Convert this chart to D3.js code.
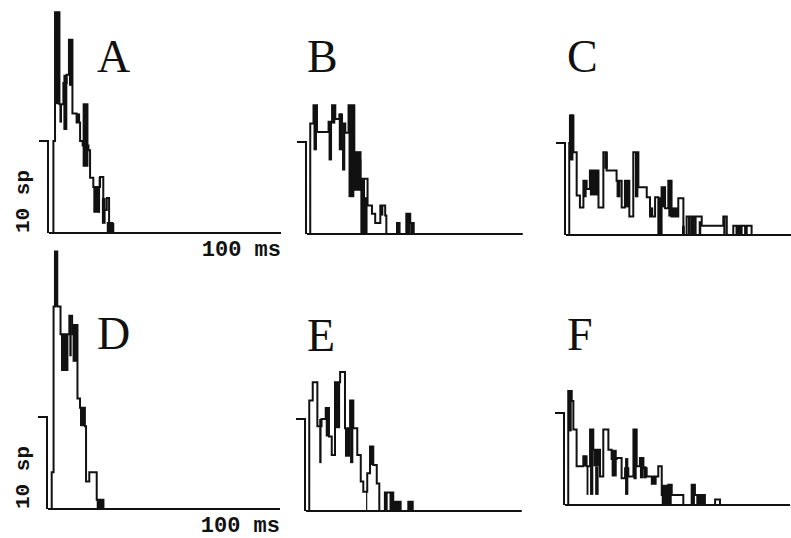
<!DOCTYPE html>
<html>
<head>
<meta charset="utf-8">
<script src="https://cdn.jsdelivr.net/npm/d3@7"></script>
<style>
  body { margin: 0; background: #fff; }
  svg { display: block; }
</style>
</head>
<body>
<div id="chart"></div>
<script>
const width = 791;
const height = 538;
const pxPerMs = 2.32;
const pxPerSpike = 9.2;

const panelNames = ["A", "B", "C", "D", "E", "F"];
const axisEnd = [100, 93, 97, 100, 93, 97];   // ms drawn on each baseline
const scaleSpikes = 10;                        // "10 sp" bar

// step outlines: [time ms, spikes] (value holds until the next point)
const stepsA = [[0,0],[1.9,10],[2.6,24],[4.5,14],[6.2,16.3],[7.6,17.2],[8.6,21],[10.1,13],[11.9,12],[13.4,10],[14.5,9.5],[17,9],[17.7,6],[19.1,5],[22,6.1],[23.4,2.5],[24.9,3.8],[25.9,1],[27.7,0]];
const stepsB = [[0,0],[1.4,12],[2.8,14],[4.3,11.1],[9.3,12.2],[10.8,14],[12.2,12.5],[14,13],[15.1,12],[16.5,11],[17.9,14],[20.4,8],[23,6],[26.1,3.1],[28,2.2],[29.4,1.2],[31.6,3.1],[33.7,2],[34.2,0],[38.8,1.2],[39.9,0],[42.8,2.2],[44.5,1.2],[46,0]];
const stepsC = [[0,0],[1.4,10],[1.7,13],[3.2,9],[4.6,4.3],[6,3],[7.5,5.9],[8.9,5],[10.3,7],[14,3],[16.1,9],[17.5,7],[21.8,5.9],[24,3],[25.4,5.9],[27.3,2],[29,9],[31.2,5.2],[34.8,4.1],[36.2,2],[38.4,4.1],[39.8,0],[41.2,5.2],[42.7,2.9],[44.1,5.9],[45.5,2],[48.4,4],[50.6,0],[52,2],[54.2,0],[54.9,2],[58.5,1],[64.9,1],[67.8,2],[69.3,0],[72.1,1],[73.5,0],[74.2,1],[75,0],[75.7,1],[77.2,0],[77.9,1],[80,0]];
const stepsD = [[0,0],[1.6,4],[2.4,22],[3,28],[4,22],[5.4,19],[9.2,21],[10.4,19],[10.6,20],[12.7,12],[13.8,11],[15.9,9],[16.4,3],[17.8,4],[21,1],[23.9,0]];
const stepsE = [[0,0],[1.4,12],[2.9,14],[4.9,9.2],[6.7,10],[8.5,11.2],[9.9,8.1],[11.1,6.1],[12.5,14],[14.7,15.1],[16.8,9],[19,12],[20.4,9],[22.1,6.1],[23.6,3.2],[24.7,2.1],[26.4,4.1],[27.6,7],[29,5],[30.5,3],[31.6,0],[34,2],[37.6,0],[38.4,1],[40.8,0],[44.1,1],[46,0]];
const stepsF = [[0,0],[1.4,12.4],[2.9,11.3],[3.6,8.2],[5,4.2],[7.9,5.3],[9.3,4.2],[10.8,8.2],[12.2,6],[15.1,3.1],[16.5,8.2],[18.7,6],[20.1,5],[22.3,5.1],[24.4,2.9],[25.9,4],[27.3,3.1],[29.5,8.2],[30.9,4.2],[32.3,5.1],[33.8,4],[35.2,3.1],[40.2,4.2],[41.7,1.1],[44.5,2.2],[46,1.1],[51,0],[54.6,2.2],[56,1.1],[58.2,0],[58.9,1.1],[60.3,0],[64.7,0.6],[66.8,0]];

// dense (black) bin ranges: [t0 ms, t1 ms, low spikes, high spikes]
const denseA = [[2.6,4.5,14,24],[4.5,5.6,12,14],[6.2,7.9,11.2,17.2],[8.6,10.1,16,21],[11.9,13.4,12,13],[14.5,17,7.2,14.1],[19.1,22,2.2,5],[21.4,22,2.2,6.1],[22.8,24.4,1,3.8],[24.9,27.7,0,1.2]];
const denseB = [[2.8,4.3,9.1,14],[9.3,10.8,8,12.2],[10.8,12.2,12,14],[13.7,15.1,9.1,13.1],[15.1,16.5,6.9,12],[17.9,20.4,4,14],[19,23.5,4.7,9],[23,25,0,6],[25,26.1,0,4],[31.6,32.9,2,3.1],[38.8,39.9,0,1.2],[42.8,44.5,0,2.2],[44.5,46,0,1.2]];
const denseC = [[1.7,3.2,8.1,13.1],[7.5,8.9,4.1,5.9],[10.3,14,4.3,7],[16.5,18,7.2,9],[21.8,23.5,4.1,5.9],[25.4,27.3,3,5.9],[29.7,31.2,4.1,9],[36.2,37.6,2,3],[39.8,41.2,0,4.1],[41.2,42.7,3,5.2],[44.1,45.5,2,5.9],[45.5,48.4,2,3],[50,51.2,0,1],[52.6,53.8,0,2],[55.2,56.3,0,2],[57.2,58.3,0,1.5],[67.8,68.8,0,2]];
const denseD = [[3,4,22,28],[5.6,8.8,15,19],[9.2,10.2,16.6,21],[10.6,12.7,16,20],[13.8,15.9,9,11],[21,23.9,0,1]];
const denseE = [[5.7,6.7,5.2,10],[8.5,9.9,8.1,11.2],[12.5,14.7,9,14],[16.8,19,5.9,9],[19,20.4,5.2,12],[25.9,26.4,0,2.1],[27.6,29,5,7],[34,35.2,0,2],[36,37.6,0,2],[38.4,40.8,0,1],[44.1,46,0,1]];
const denseF = [[1.4,2.9,8,12.4],[7.9,9.3,4.2,5.3],[9.3,10.1,1.1,4.2],[10.8,12.2,1.1,8.2],[12.2,15.1,4.2,6],[13,14.5,1.1,4.2],[20.1,22.3,3.1,6],[25.9,27.3,1.1,5.1],[29.5,30.9,2.8,8.2],[32.3,33.8,2.9,5.1],[33.8,35.2,2.9,4.2],[37,39.5,2.2,3.1],[41.7,46,0,2.2],[54.6,56,0,2.2],[56.6,58.2,0,1.1],[58.9,60.3,0,1.1]];

const allSteps = [stepsA, stepsB, stepsC, stepsD, stepsE, stepsF];
const allDense = [denseA, denseB, denseC, denseD, denseE, denseF];

// where each panel's origin (time 0, baseline) sits on the page
const origins = [[49, 233], [307, 234], [566, 235], [48, 509], [306, 511], [565, 505]];
const letterPos = [[97, 72], [307, 72], [567, 72], [97, 349], [307, 351], [567, 350]];

const svg = d3.select("#chart")
    .append("svg")
    .attr("width", width)
    .attr("height", height);

const x = d3.scaleLinear().domain([0, 100]).range([0, 100 * pxPerMs]);
const y = d3.scaleLinear().domain([0, 10]).range([0, -10 * pxPerSpike]);

const stepLine = d3.line()
    .x(d => x(d[0]))
    .y(d => y(d[1]))
    .curve(d3.curveStepAfter);

panelNames.forEach((name, i) => {
    const g = svg.append("g")
        .attr("transform", `translate(${origins[i][0]},${origins[i][1]})`);

    // dense bins as filled blocks
    g.selectAll("rect")
        .data(allDense[i])
        .enter()
        .append("rect")
        .attr("x", d => x(d[0]))
        .attr("width", d => x(d[1]) - x(d[0]))
        .attr("y", d => y(d[3]))
        .attr("height", d => y(d[2]) - y(d[3]))
        .attr("fill", "#111");

    // histogram outline
    g.append("path")
        .attr("d", stepLine(allSteps[i]))
        .attr("fill", "none")
        .attr("stroke", "#111")
        .attr("stroke-width", 2);

    // baseline
    g.append("line")
        .attr("x1", x(0)).attr("x2", x(axisEnd[i]))
        .attr("y1", y(0)).attr("y2", y(0))
        .attr("stroke", "#111")
        .attr("stroke-width", 2.2);

    // 10 spike scale bar at the left
    g.append("path")
        .attr("d", `M${x(0) - 10},${y(scaleSpikes)}H${x(0) - 1}V${y(0)}`)
        .attr("fill", "none")
        .attr("stroke", "#111")
        .attr("stroke-width", 2);

    svg.append("text")
        .attr("x", letterPos[i][0])
        .attr("y", letterPos[i][1])
        .attr("font-family", "Liberation Serif, serif")
        .attr("font-size", 46)
        .attr("fill", "#111")
        .text(name);

    // labels only on the left column
    if (i % 3 === 0) {
        svg.append("text")
            .attr("transform", `translate(29,${origins[i][1]}) rotate(-90)`)
            .attr("font-family", "Liberation Mono, monospace")
            .attr("font-weight", "bold")
            .attr("font-size", 21)
            .attr("fill", "#111")
            .text("10 sp");

        svg.append("text")
            .attr("x", origins[i][0] + x(axisEnd[i]))
            .attr("y", origins[i][1] + 23)
            .attr("text-anchor", "end")
            .attr("font-family", "Liberation Mono, monospace")
            .attr("font-weight", "bold")
            .attr("font-size", 22)
            .attr("fill", "#111")
            .text("100 ms");
    }
});
</script>
</body>
</html>
